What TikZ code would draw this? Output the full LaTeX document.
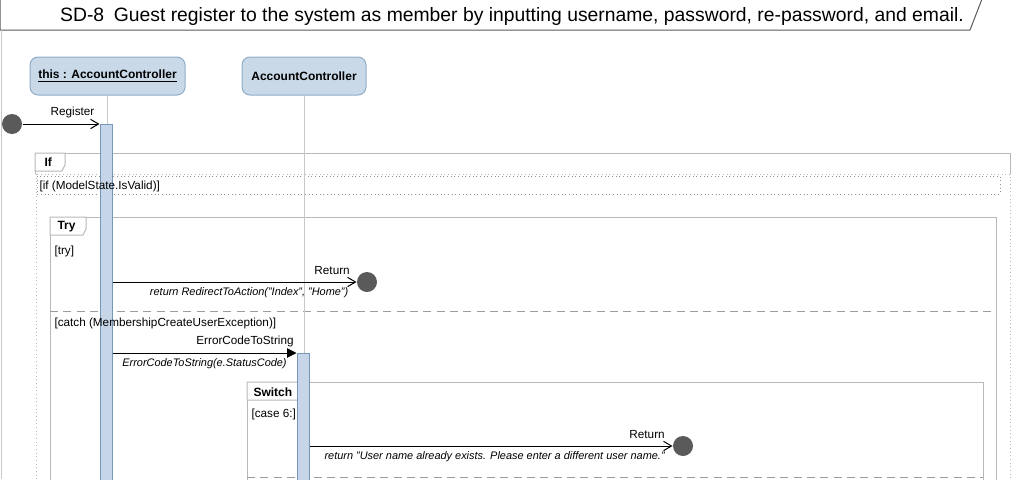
\documentclass[tikz,border=0pt]{standalone}
\usepackage{fontspec}
\setmainfont{Liberation Sans}
\usetikzlibrary{arrows.meta}

\definecolor{headfill}{HTML}{C9D9E8}
\definecolor{headline}{HTML}{8EACC8}
\definecolor{barfill}{HTML}{C6D6E8}
\definecolor{barline}{HTML}{7696BC}
\definecolor{dotgray}{HTML}{5A5A5A}
\definecolor{framegray}{HTML}{B8B8B8}
\definecolor{lifegray}{HTML}{C8C8C8}

\begin{document}
\begin{tikzpicture}[x=0.75pt, y=-0.75pt, line width=0.75pt]
        \tikzstyle{head}=[draw=headline, fill=headfill, rounded corners=6pt, minimum height=28.5pt, font=\fontsize{9}{10}\selectfont\bfseries]
        \tikzstyle{bar}=[draw=barline, fill=barfill, minimum width=9pt, inner sep=0pt, anchor=north]
        \tikzstyle{dot}=[circle, fill=dotgray, minimum size=15pt, inner sep=0pt]
        \tikzstyle{frame}=[draw=framegray]
        \tikzstyle{tab}=[draw=framegray, fill=white]
        \tikzstyle{label}=[font=\fontsize{8.8}{10}\selectfont, inner sep=1.5pt]
        \tikzstyle{tabtext}=[label, anchor=west, font=\fontsize{9}{10}\selectfont\bfseries]
        \tikzstyle{guard}=[label, anchor=west]
        \tikzstyle{msg}=[font=\fontsize{8.2}{10}\selectfont\itshape, inner sep=1.5pt]
        \tikzstyle{open}=[-{Straight Barb[length=6pt, width=7pt]}]
        \tikzstyle{call}=[-{Triangle[length=7pt, width=7pt]}]

        \useasboundingbox (0,0) rectangle (1028,479);

        % Title
        \draw[draw=dotgray, fill=white] (0,-1) -- (0,30) -- (970,30) -- (982,-1);
        \draw node at (512,16) [font=\fontsize{14.5}{16}\selectfont] (title) {SD-8\enspace Guest register to the system as member by inputting username, password, re-password, and email.};
        \draw[lifegray] (1,30) -- (1,479);

        % Fragments
        \draw[frame] (35,174) -- (35,153) -- (1010,153) -- (1010,174);
        \draw[framegray, dotted] (36,174) rectangle (1010,490);
        \draw[framegray!80!black, dotted] (37,176) rectangle (1000,194);
        \draw[tab] (35,153) -- (65,153) -- (65,165) -- (62,171) -- (35,171) -- cycle;
        \draw node at (42,162) [tabtext] (tab_if) {If};

        \draw[frame] (50,490) -- (50,217) -- (996,217) -- (996,490);
        \draw[tab] (50,217) -- (86,217) -- (86,229) -- (83,235) -- (50,235) -- cycle;
        \draw node at (55,227) [tabtext] (tab_try) {Try};
        \draw[framegray!85!black, dash pattern=on 6pt off 4pt] (50,311) -- (993,311);

        \draw[frame] (247,490) -- (247,382) -- (983,382) -- (983,490);
        \draw[tab] (247,382) -- (302,382) -- (302,394) -- (299,400) -- (247,400) -- cycle;
        \draw node at (251,392) [tabtext] (tab_switch) {Switch};
        \draw[framegray!85!black, dash pattern=on 6pt off 4pt] (247,477) -- (983,477);

        % Lifelines
        \draw node at (107.5,76) [head, minimum width=116.25pt] (head_this) {\underline{this : AccountController}};
        \draw node at (304,76) [head, minimum width=93pt] (head_ctrl) {AccountController};
        \coordinate (end_this) at (107,479);
        \coordinate (end_ctrl) at (304,479);
        \draw[lifegray] (head_this.south -| end_this) -- (end_this);
        \draw[lifegray] (head_ctrl.south) -- (end_ctrl);

        \draw node at (106,124) [bar, minimum height=267pt] (act_this) {};
        \draw node at (303,353) [bar, minimum height=95pt] (act_ctrl) {};

        % Guards
        \draw node at (37,186) [guard] (guard_if) {[if (ModelState.IsValid)]};
        \draw node at (52,251) [guard] (guard_try) {[try]};
        \draw node at (52,323) [guard] (guard_catch) {[catch (MembershipCreateUserException)]};
        \draw node at (249,414) [guard] (guard_case) {[case 6:]};

        % Messages
        \draw node at (12,124) [dot] (start) {};
        \draw node at (367,282) [dot] (ret_0) {};
        \draw node at (683,446) [dot] (ret_1) {};

        \draw [open] (start) -- node[label, above=3pt, pos=0.65] {Register} (start -| act_this.west);
        \draw [open] (act_this.east |- ret_0) -- node[label, above=4pt, pos=0.9] {Return} node[msg, below=2.5pt, pos=0.56] {return RedirectToAction("Index", "Home")} (ret_0);
        \draw [call] (act_this.east |- act_ctrl.north) -- node[label, above=3pt, pos=0.72] {ErrorCodeToString} node[msg, below=2.5pt, pos=0.5] {ErrorCodeToString(e.StatusCode)} (act_ctrl.north west);
        \draw [open] (act_ctrl.east |- ret_1) -- node[label, above=4pt, pos=0.93] {Return} node[msg, below=2.5pt, pos=0.51] {return "User name already exists. Please enter a different user name."} (ret_1);

    \end{tikzpicture}
\end{document}
